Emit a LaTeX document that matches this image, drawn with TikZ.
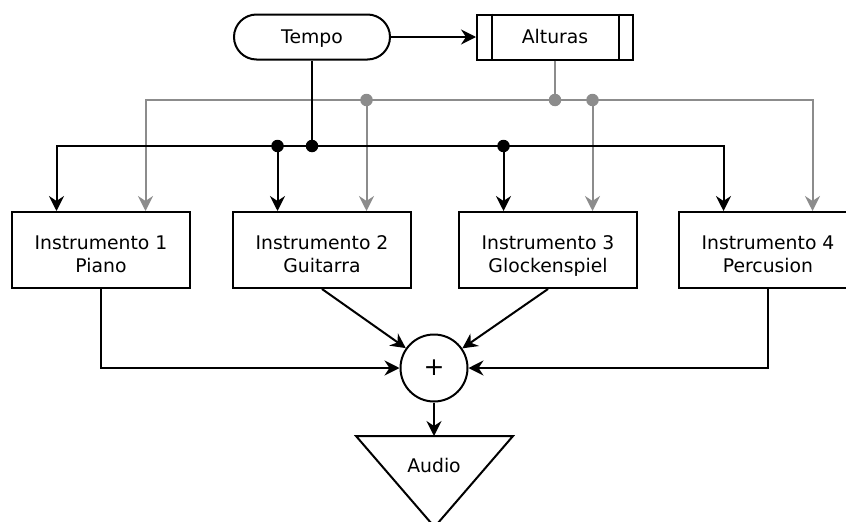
\documentclass[tikz,border=0pt]{standalone}
\usepackage{fontspec}
\setmainfont{DejaVu Sans}
\usetikzlibrary{arrows.meta,calc}
\definecolor{lgray}{RGB}{140,140,140}
\begin{document}
\begin{tikzpicture}[x=1pt,y=-1pt,
  font=\fontsize{18.8}{22.3}\selectfont,
  line width=2pt,
  arr/.style={-{Stealth[length=15pt,width=15pt,inset=5pt]}},
  box/.style={draw,minimum width=178pt,minimum height=76pt,align=center,inner sep=0pt,
    text height=48.5pt,text depth=4.5pt},
  capbox/.style={text height=13.8pt,text depth=0pt},
  jdot/.style={circle,fill,inner sep=0pt,minimum size=12.5pt}]
\useasboundingbox (0,0) rectangle (846,522);
% top nodes
\node[draw,capbox,rounded corners=22.5pt,minimum width=156pt,minimum height=45pt,inner sep=0pt] (tempo) at (312,37) {Tempo};
\node[draw,capbox,minimum width=156pt,minimum height=45pt,inner sep=0pt] (alt) at (555,37) {Alturas};
\draw ([xshift=16pt]alt.north west) -- ([xshift=16pt]alt.south west);
\draw ([xshift=-15pt]alt.north east) -- ([xshift=-15pt]alt.south east);
% instruments
\node[box] (i1) at (101,250) {Instrumento 1\\Piano};
\node[box] (i2) at (322,250) {Instrumento 2\\Guitarra};
\node[box] (i3) at (548,250) {Instrumento 3\\Glockenspiel};
\node[box] (i4) at (768,250) {Instrumento 4\\Percusion};
% sum and audio
\node[draw,circle,minimum size=67pt,inner sep=0pt,font=\fontsize{25}{25}\selectfont] (sum) at (434,368) {+};
\draw (356,436) -- (513,436) -- (434.5,527) -- cycle;
\coordinate (atop) at (434,436);
\node[capbox] (audio) at (434,465.5) {Audio};
% entry coordinates
\foreach \n in {i1,i2,i3,i4}{
  \coordinate (\n b) at ([xshift=-44.5pt]\n.north);
  \coordinate (\n g) at ([xshift=44.5pt]\n.north);
}
\coordinate (gb) at (0,100);
\coordinate (bb) at (0,146);
% gray network
\begin{scope}[draw=lgray,color=lgray]
\draw (alt.south) -- (alt.south |- gb);
\draw[arr] (alt.south |- gb) -| (i1g);
\draw[arr] (alt.south |- gb) -| (i4g);
\draw[arr] (i2g |- gb) -- (i2g);
\draw[arr] (i3g |- gb) -- (i3g);
\node[jdot] (gd1) at (alt.south |- gb) {};
\node[jdot] (gd2) at (i2g |- gb) {};
\node[jdot] (gd3) at (i3g |- gb) {};
\end{scope}
% black network
\draw[arr] (tempo) -- (alt);
\draw (tempo.south) -- (tempo.south |- bb);
\draw[arr] (tempo.south |- bb) -| (i1b);
\draw[arr] (tempo.south |- bb) -| (i4b);
\draw[arr] (i2b |- bb) -- (i2b);
\draw[arr] (i3b |- bb) -- (i3b);
\node[jdot] (bd1) at (tempo.south |- bb) {};
\node[jdot] (bd2) at (i2b |- bb) {};
\node[jdot] (bd3) at (i3b |- bb) {};
% to sum
\draw[arr] (i1.south) |- (sum);
\draw[arr] (i4.south) |- (sum);
\draw[arr] (i2.south) -- (sum);
\draw[arr] (i3.south) -- (sum);
\draw[arr] (sum) -- (atop);
\end{tikzpicture}
\end{document}
